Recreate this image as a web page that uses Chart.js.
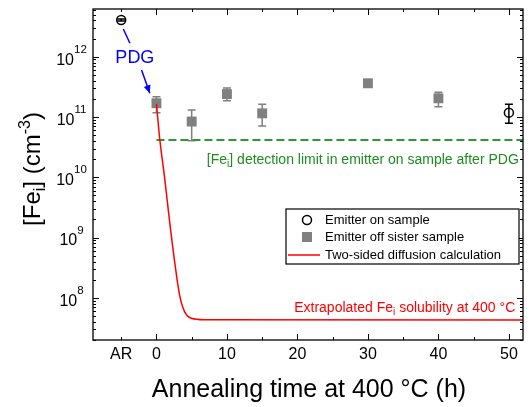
<!DOCTYPE html>
<html>
<head>
<meta charset="utf-8">
<script src="https://cdn.jsdelivr.net/npm/chart.js@4/dist/chart.umd.min.js"></script>
<style>
html, body { margin: 0; padding: 0; background: #fff; }
</style>
</head>
<body>
<canvas id="chart" width="530" height="407"></canvas>
<script>
// emitter on sample (open circles)
const onTime = [-5, 50];
const onFe = [4.06e12, 1.18e11];
const onLow = [3.9e12, 7.9e10];
const onHigh = [4.2e12, 1.62e11];

// emitter off sister sample (grey squares)
const offTime = [0, 5, 10, 15, 30, 40];
const offFe = [1.69e11, 8.4e10, 2.4e11, 1.15e11, 3.62e11, 2.04e11];
const offLow = [1.18e11, 4.05e10, 1.86e11, 7.1e10, 3.3e11, 1.48e11];
const offHigh = [2.17e11, 1.31e11, 3.03e11, 1.62e11, 3.95e11, 2.57e11];

// two-sided diffusion calculation
const calcTime = [0, 0.46, 1.17, 1.87, 2.58, 3.28, 3.99, 4.93, 6.8, 52];
const calcFe = [1.65e11, 4.4e10, 9.6e9, 1.84e9, 4.0e8, 1.12e8, 5.9e7, 4.6e7, 4.35e7, 4.3e7];

// detection limit
const limitTime = [0, 52];
const limitFe = [4.16e10, 4.16e10];

const xTicks = [-5, 0, 10, 20, 30, 40, 50];
const xTickLabels = ['AR', '0', '10', '20', '30', '40', '50'];
const xMajor = [0, 10, 20, 30, 40, 50];
const xMinor = [-5, 5, 15, 25, 35, 45];
const yDecades = [8, 9, 10, 11, 12];

const FONT = "'Liberation Sans', Arial, sans-serif";
function font(size) { return size + 'px ' + FONT; }

function pts(xs, ys) {
    return xs.map((x, i) => ({ x, y: ys[i] }));
}

// draw text made of pieces (normal / sub / sup)
function drawRich(ctx, parts, x, y, align) {
    let w = 0;
    parts.forEach(p => {
        ctx.font = font(p.size);
        p.w = ctx.measureText(p.t).width;
        w += p.w;
    });
    let cx = align === 'right' ? x - w : align === 'center' ? x - w / 2 : x;
    ctx.textAlign = 'left';
    parts.forEach(p => {
        ctx.font = font(p.size);
        ctx.fillText(p.t, cx, y + (p.dy || 0));
        cx += p.w;
    });
}

function arrow(ctx, x1, y1, x2, y2, head) {
    ctx.beginPath();
    ctx.moveTo(x1, y1);
    ctx.lineTo(x2, y2);
    ctx.stroke();
    if (head) {
        const a = Math.atan2(y2 - y1, x2 - x1);
        const len = 8, wid = 3.5;
        ctx.beginPath();
        ctx.moveTo(x2, y2);
        ctx.lineTo(x2 - len * Math.cos(a) + wid * Math.sin(a), y2 - len * Math.sin(a) - wid * Math.cos(a));
        ctx.lineTo(x2 - len * Math.cos(a) - wid * Math.sin(a), y2 - len * Math.sin(a) + wid * Math.cos(a));
        ctx.closePath();
        ctx.fill();
    }
}

const errorBars = {
    id: 'errorBars',
    beforeDatasetsDraw(chart) {
        const { ctx, scales: { x, y } } = chart;
        const sets = [
            [offTime, offLow, offHigh, '#808080'],
            [onTime, onLow, onHigh, '#000000'],
        ];
        ctx.save();
        ctx.lineWidth = 1.5;
        sets.forEach(([ts, lo, hi, col]) => {
            ctx.strokeStyle = col;
            ts.forEach((t, i) => {
                const px = x.getPixelForValue(t);
                const p1 = y.getPixelForValue(lo[i]);
                const p2 = y.getPixelForValue(hi[i]);
                ctx.beginPath();
                ctx.moveTo(px, p1); ctx.lineTo(px, p2);
                ctx.moveTo(px - 4, p1); ctx.lineTo(px + 4, p1);
                ctx.moveTo(px - 4, p2); ctx.lineTo(px + 4, p2);
                ctx.stroke();
            });
        });
        ctx.restore();
    }
};

const decorations = {
    id: 'decorations',
    afterDatasetsDraw(chart) {
        const { ctx, chartArea: a, scales: { x, y } } = chart;
        ctx.save();

        // frame
        ctx.strokeStyle = '#000';
        ctx.lineWidth = 1.3;
        ctx.strokeRect(a.left, a.top, a.right - a.left, a.bottom - a.top);

        // x ticks, bottom and top, pointing inwards
        ctx.lineWidth = 1;
        ctx.beginPath();
        xMajor.concat(xMinor).forEach(v => {
            const px = Math.round(x.getPixelForValue(v)) + 0.5;
            const len = xMajor.includes(v) ? 6 : 3;
            ctx.moveTo(px, a.bottom); ctx.lineTo(px, a.bottom - len);
            ctx.moveTo(px, a.top); ctx.lineTo(px, a.top + len);
        });
        // y ticks, left and right
        for (let n = 7; n <= 12; n++) {
            for (let m = 1; m <= 9; m++) {
                const v = m * Math.pow(10, n);
                if (v < y.min || v > y.max) continue;
                const py = Math.round(y.getPixelForValue(v)) + 0.5;
                const len = m === 1 ? 6 : 3;
                ctx.moveTo(a.left, py); ctx.lineTo(a.left + len, py);
                ctx.moveTo(a.right, py); ctx.lineTo(a.right - len, py);
            }
        }
        ctx.stroke();

        // y tick labels 10^n
        ctx.fillStyle = '#000';
        ctx.textBaseline = 'middle';
        yDecades.forEach(n => {
            const py = y.getPixelForValue(Math.pow(10, n));
            drawRich(ctx, [
                { t: '10', size: 16, dy: 3.5 },
                { t: String(n), size: 11.5, dy: -7 },
            ], 71.5, py, 'center');
        });

        // axis titles
        ctx.textBaseline = 'alphabetic';
        ctx.font = font(25);
        ctx.textAlign = 'center';
        ctx.fillText('Annealing time at 400 \u00B0C (h)', 309, 397);

        ctx.save();
        ctx.translate(40, 169);
        ctx.rotate(-Math.PI / 2);
        drawRich(ctx, [
            { t: '[Fe', size: 24 },
            { t: 'i', size: 16, dy: 5 },
            { t: '] (cm', size: 24 },
            { t: '-3', size: 16, dy: -10 },
            { t: ')', size: 24 },
        ], 0, 0, 'center');
        ctx.restore();

        // annotations
        ctx.textBaseline = 'middle';
        ctx.fillStyle = '#1e8c1e';
        drawRich(ctx, [
            { t: '[Fe', size: 14 },
            { t: 'i', size: 10, dy: 4 },
            { t: '] detection limit in emitter on sample after PDG', size: 14 },
        ], x.getPixelForValue(51.4), y.getPixelForValue(1.94e10), 'right');

        ctx.fillStyle = '#ff0000';
        drawRich(ctx, [
            { t: 'Extrapolated Fe', size: 14 },
            { t: 'i', size: 10, dy: 4 },
            { t: ' solubility at 400 \u00B0C', size: 14 },
        ], x.getPixelForValue(50.9), y.getPixelForValue(6.8e7), 'right');

        // PDG label and arrows
        ctx.fillStyle = '#0000ff';
        ctx.strokeStyle = '#0000ff';
        ctx.lineWidth = 1.5;
        ctx.font = font(18);
        ctx.textAlign = 'center';
        ctx.fillText('PDG', x.getPixelForValue(-3.06), y.getPixelForValue(1e12) + 1);
        arrow(ctx, x.getPixelForValue(-4.7), y.getPixelForValue(Math.pow(10, 12.459)),
            x.getPixelForValue(-3.76), y.getPixelForValue(Math.pow(10, 12.222)), false);
        arrow(ctx, x.getPixelForValue(-2.11), y.getPixelForValue(Math.pow(10, 11.779)),
            x.getPixelForValue(-0.94), y.getPixelForValue(Math.pow(10, 11.393)), true);

        // legend box
        ctx.strokeStyle = '#000';
        ctx.lineWidth = 1.2;
        ctx.fillStyle = '#fff';
        ctx.fillRect(286, 209, 233, 55);
        ctx.strokeRect(286, 209, 233, 55);
        const rows = [220, 237, 255];
        const sym = 307;
        // open circle
        ctx.lineWidth = 1.5;
        ctx.beginPath();
        ctx.arc(sym, rows[0], 4.5, 0, Math.PI * 2);
        ctx.fill();
        ctx.stroke();
        // grey square
        ctx.fillStyle = '#808080';
        ctx.fillRect(sym - 5, rows[1] - 5, 10, 10);
        // red line
        ctx.strokeStyle = '#ff0000';
        ctx.lineWidth = 1.5;
        ctx.beginPath();
        ctx.moveTo(288, rows[2]); ctx.lineTo(320, rows[2]);
        ctx.stroke();
        ctx.fillStyle = '#000';
        ctx.font = font(13);
        ctx.textAlign = 'left';
        ctx.fillText('Emitter on sample', 325, rows[0]);
        ctx.fillText('Emitter off sister sample', 325, rows[1]);
        ctx.fillText('Two-sided diffusion calculation', 325, rows[2]);

        ctx.restore();
    }
};

const config = {
    type: 'scatter',
    data: {
        datasets: [
            {
                label: 'Two-sided diffusion calculation',
                data: pts(calcTime, calcFe),
                showLine: true,
                borderColor: '#ff0000',
                borderWidth: 1.5,
                pointRadius: 0,
                cubicInterpolationMode: 'monotone',
                order: 0,
            },
            {
                label: 'Detection limit',
                data: pts(limitTime, limitFe),
                showLine: true,
                borderColor: '#2e9a2e',
                borderDash: [8, 4],
                borderWidth: 2,
                pointRadius: 0,
                order: 1,
            },
            {
                label: 'Emitter off sister sample',
                data: pts(offTime, offFe),
                pointStyle: 'rect',
                pointRadius: 7,
                backgroundColor: '#808080',
                borderColor: '#808080',
                borderWidth: 0,
                order: 2,
            },
            {
                label: 'Emitter on sample',
                data: pts(onTime, onFe),
                pointStyle: 'circle',
                pointRadius: 4.5,
                backgroundColor: 'rgba(255,255,255,0)',
                borderColor: '#000',
                borderWidth: 1.5,
                order: 3,
            },
        ]
    },
    options: {
        responsive: false,
        animation: false,
        layout: { padding: { top: 9, right: 4, left: 0, bottom: 0 } },
        plugins: { legend: { display: false }, tooltip: { enabled: false } },
        scales: {
            x: {
                type: 'linear',
                min: -9,
                max: 52,
                grid: { display: false, drawTicks: false },
                border: { display: false },
                afterBuildTicks: s => { s.ticks = xTicks.map(v => ({ value: v })); },
                ticks: {
                    font: { family: FONT, size: 16 },
                    color: '#000',
                    padding: 5,
                    maxRotation: 0,
                    autoSkip: false,
                    callback: (v, i) => xTickLabels[i],
                },
                afterFit: s => { s.height = 67; },
            },
            y: {
                type: 'logarithmic',
                min: 2.0e7,
                max: 6.18e12,
                grid: { display: false },
                border: { display: false },
                ticks: { display: false },
                afterFit: s => { s.width = 93; },
            }
        }
    },
    plugins: [errorBars, decorations],
};

const chart = new Chart(document.getElementById('chart'), config);
</script>
</body>
</html>
